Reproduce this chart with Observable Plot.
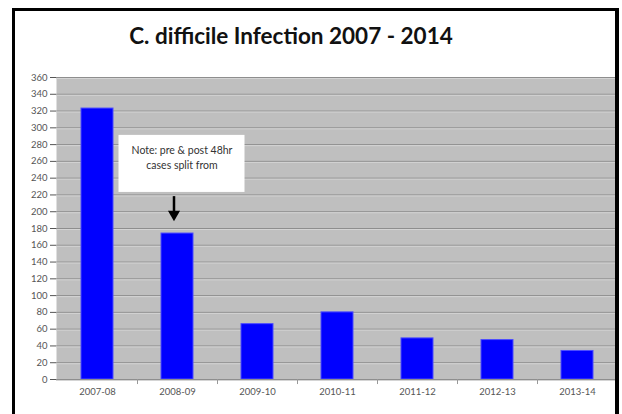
<!DOCTYPE html>
<html>
<head>
<meta charset="utf-8">
<script src="https://cdn.jsdelivr.net/npm/d3@7"></script>
<script src="https://cdn.jsdelivr.net/npm/@observablehq/plot@0.6"></script>
<style>
  html, body { margin: 0; padding: 0; background: #fff; width: 622px; height: 414px; overflow: hidden; }
  #frame { position: absolute; left: 12px; top: 8px; width: 600px; height: 420px; border: 3px solid #000; border-right-width: 4px; box-sizing: content-box; }
  #title { position: absolute; left: -20px; top: 22px; width: 622px; text-align: center; font-family: Lato, "Open Sans", sans-serif; font-weight: bold; font-size: 22.5px; color: #111; }
  #chart { position: absolute; left: 0; top: 60px; }
</style>
</head>
<body>
<div id="chart"></div>
<div id="frame"></div>
<div id="title">C. difficile Infection 2007 - 2014</div>
<script>
const categories = ["2007-08", "2008-09", "2009-10", "2010-11", "2011-12", "2012-13", "2013-14"];
const values = [323, 174, 66, 80, 49, 47, 34];
const yTicks = d3.range(0, 361, 20);
const noteLines = ["Note: pre & post 48hr", "cases split from"];
const noteCategory = "2008-09";
const noteBox = [223, 291];     // y extent of the note box, in value units
const noteLineY = [273, 255];   // y of each note line
const arrowY = [218, 193];      // arrow from / to

const data = categories.map((c, i) => ({category: c, value: values[i]}));

const chart = Plot.plot({
  width: 622,
  height: 354,
  marginLeft: 56,
  marginRight: 4,
  marginTop: 17,
  marginBottom: 35,
  style: {fontFamily: "Lato, 'Open Sans', sans-serif", fontSize: "9.5px", color: "#555", background: "transparent"},
  x: {domain: categories, paddingInner: 0.6, paddingOuter: 0.3, label: null, tickSize: 0, tickPadding: 9},
  y: {domain: [0, 360], ticks: yTicks, label: null, tickSize: 6, tickPadding: 3},
  marks: [
    Plot.frame({fill: "#bfbfbf", stroke: null}),
    Plot.ruleY(yTicks, {stroke: "#8e8e8e", strokeWidth: 1}),
    Plot.ruleY(yTicks, {stroke: "#d4d4d4", strokeWidth: 1, dy: 1}),
    Plot.barY(data, {x: "category", y: "value", fill: "#0000ff", stroke: "#4d4dff", strokeWidth: 1}),
    Plot.barY([noteCategory], {x: d => d, y1: () => noteBox[0], y2: () => noteBox[1], fill: "white", insetLeft: -42.5, insetRight: -51.5}),
    Plot.text(noteLines, {x: () => noteCategory, y: (d, i) => noteLineY[i], text: d => d, fill: "#333", fontSize: 10.5, dx: 4.5}),
    Plot.ruleX([noteCategory], {x: d => d, y1: () => arrowY[0], y2: () => arrowY[1] + 4, stroke: "#000", strokeWidth: 2.5, dx: -3.5}),
    Plot.dot([noteCategory], {x: d => d, y: () => arrowY[1] + 4, symbol: "triangle", rotate: 180, r: 4.5, fill: "#000", stroke: null, dx: -3.5}),
    Plot.ruleY([0], {stroke: "#8e8e8e"}),
    Plot.ruleX(categories.slice(1), {x: d => d, y1: 0, y2: -6, stroke: "#999", dx: -40, clip: false})
  ]
});
document.getElementById("chart").appendChild(chart);
</script>
</body>
</html>
